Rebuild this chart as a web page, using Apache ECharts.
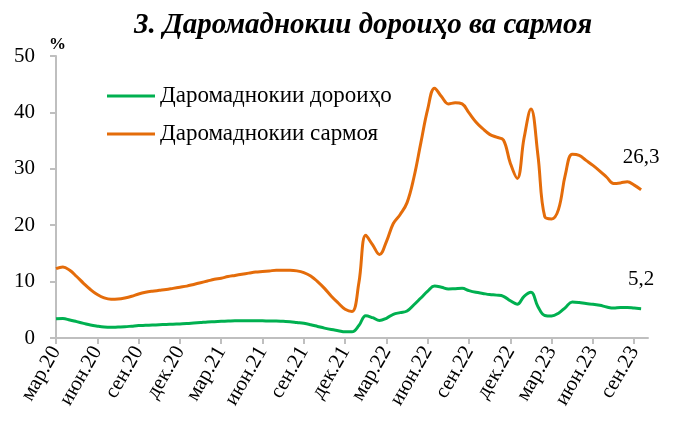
<!DOCTYPE html>
<html><head><meta charset="utf-8">
<script src="https://cdn.jsdelivr.net/npm/echarts@6/dist/echarts.min.js"></script>
<style>html,body{margin:0;padding:0;background:#fff}#c{width:675px;height:428px}</style>
</head><body><div id="c"></div>
<script>
// Month labels (mar.20 .. oct.23); data sampled at the start and middle of each month
const monthNames = ['мар','апр','май','июн','июл','авг','сен','окт','ноя','дек','янв','фев'];
const months = [];
for (let i = 0; i < 44; i++) {
  const yr = 20 + Math.floor((i + 2) / 12);
  months.push(monthNames[i % 12] + '.' + yr);
}
const categories = [];
months.forEach((m, i) => { categories.push(m); if (i < months.length - 1) categories.push(m + ' ½'); });

const seriesNames = ['Даромаднокии дороиҳо', 'Даромаднокии сармоя'];
const yieldAssets = [
  3.4,3.45,3.2,2.9,2.6,2.3,2.1,1.95,1.9,1.95,2.0,2.1,2.2,2.25,2.3,2.35,2.4,2.45,2.5,2.55,
  2.65,2.75,2.85,2.9,2.95,3.0,3.05,3.05,3.05,3.05,3.05,3.0,3.0,2.95,2.9,2.75,2.6,2.35,2.05,1.75,
  1.5,1.3,1.1,1.1,2.2,3.95,3.6,3.1,3.5,4.2,4.5,4.8,5.9,7.1,8.3,9.2,9.0,8.7,8.75,8.8,
  8.4,8.1,7.9,7.7,7.6,7.4,6.6,6.0,7.4,8.1,5.6,4.0,3.9,4.4,5.4,6.4,6.3,6.1,6.0,5.8,
  5.5,5.3,5.4,5.4,5.3,5.2
];
const yieldCapital = [
  12.3,12.6,12.0,10.9,9.7,8.6,7.7,7.1,6.85,6.9,7.1,7.4,7.8,8.1,8.3,8.45,8.6,8.8,9.0,9.2,
  9.5,9.8,10.1,10.4,10.6,10.9,11.1,11.3,11.5,11.7,11.8,11.9,12.0,12.0,12.0,11.9,11.6,11.0,10.0,8.8,
  7.4,6.2,5.1,4.7,9.8,18.2,16.5,14.8,17.1,20.3,21.9,24.0,28.5,34.6,40.6,44.3,42.8,41.5,41.7,41.5,
  39.9,38.3,37.1,36.1,35.6,35.1,31.0,28.3,35.5,40.6,32.5,21.5,21.1,22.8,29.0,32.6,32.4,31.5,30.6,29.6,
  28.5,27.4,27.5,27.7,27.1,26.3
];
const yTicks = { min: 0, max: 50, interval: 10 };
const title = '3. Даромаднокии дороиҳо ва сармоя';
const unit = '%';

const serif = '"Liberation Serif", "DejaVu Serif", serif';
const fmt = v => String(v).replace('.', ',');
function endLabel(dy) {
  return { show: true, formatter: p => fmt(p.value), align: 'center', verticalAlign: 'middle',
    distance: 0, offset: [0, dy], fontFamily: serif, fontSize: 21, color: '#000' };
}

const chart = echarts.init(document.getElementById('c'), null, { renderer: 'canvas' });
chart.setOption({
  animation: false,
  backgroundColor: '#fff',
  title: { text: title, left: 358, textAlign: 'center', top: 6,
    textStyle: { fontFamily: serif, fontSize: 29, fontWeight: 'bold', fontStyle: 'italic', color: '#000' } },
  graphic: [{ type: 'text', left: 49, top: 36, style: { text: unit, font: 'bold 17px ' + serif, fill: '#000' } }],
  legend: { orient: 'vertical', left: 102, top: 79, itemWidth: 48, itemHeight: 3, itemGap: 14, icon: 'rect',
    textStyle: { fontFamily: serif, fontSize: 23, lineHeight: 24, color: '#000' }, data: seriesNames },
  grid: { left: 56, right: 27, top: 56, bottom: 90, containLabel: false },
  xAxis: {
    type: 'category', data: categories, boundaryGap: false,
    axisLine: { lineStyle: { color: '#bfbfbf', width: 2 } },
    axisTick: { show: true, interval: 5, length: 6, lineStyle: { color: '#bfbfbf', width: 2 } },
    axisLabel: { interval: 5, rotate: 60, margin: 10,
      fontFamily: serif, fontSize: 21, color: '#000' }
  },
  yAxis: {
    type: 'value', min: yTicks.min, max: yTicks.max, interval: yTicks.interval,
    splitLine: { show: false },
    axisLine: { show: true, lineStyle: { color: '#bfbfbf', width: 2 } },
    axisTick: { show: true, length: 6, lineStyle: { color: '#bfbfbf', width: 2 } },
    axisLabel: { margin: 21, fontFamily: serif, fontSize: 21, color: '#000' }
  },
  series: [
    { name: seriesNames[0], type: 'line', data: yieldAssets, smooth: 0.4,
      symbol: 'none', lineStyle: { color: '#00b050', width: 3 }, itemStyle: { color: '#00b050' },
      endLabel: endLabel(-29) },
    { name: seriesNames[1], type: 'line', data: yieldCapital, smooth: 0.4,
      symbol: 'none', lineStyle: { color: '#e46c0a', width: 3 }, itemStyle: { color: '#e46c0a' },
      endLabel: endLabel(-32) }
  ]
});
</script></body></html>
